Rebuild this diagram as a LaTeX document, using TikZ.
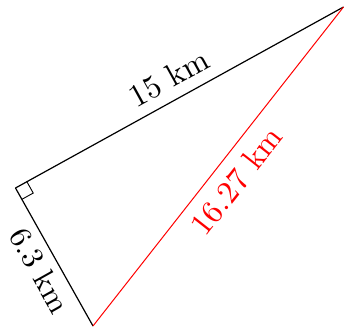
\documentclass[tikz,border=0pt]{standalone}
\usepackage{fontspec}
\setmainfont{lmroman10-regular}[Extension=.otf]
\usetikzlibrary{calc}
\tikzset{
  blackside/.style={draw=black, line width=1.2pt},
  redside/.style={draw=red, line width=1pt},
  sidelabel/.style={font=\fontsize{32}{38}\selectfont, inner xsep=0pt, outer sep=0pt},
  rightmark/.style={draw=black, line width=0.9pt}
}
\begin{document}
\begin{tikzpicture}[x=1pt,y=-1pt]
\useasboundingbox (0,0) rectangle (345,331);
\coordinate (A) at (343.5,7);
\coordinate (B) at (15.5,188);
\coordinate (C) at (93,326);
\draw[blackside] (B) -- (A);
\draw[blackside] (B) -- (C);
\draw[redside] (C) -- (A);
\coordinate (P) at ($(B)!13pt!(A)$);
\coordinate (Q) at ($(B)!13pt!(C)$);
\draw[rightmark] (P) -- ($(P)+(Q)-(B)$) -- (Q);
\node[sidelabel, anchor=south, inner ysep=11pt, rotate=28.9] (l15) at ($(B)!0.5!(A)$) {15 km};
\node[sidelabel, anchor=north, inner ysep=12pt, rotate=51.8, text=red] (lhyp) at ($(C)!0.5!(A)$) {16.27 km};
\node[sidelabel, font=\fontsize{31}{37}\selectfont, anchor=north, inner ysep=8pt, rotate=-60.7] (l63) at ($(B)!0.53!(C)$) {6.3 km};
\end{tikzpicture}
\end{document}
